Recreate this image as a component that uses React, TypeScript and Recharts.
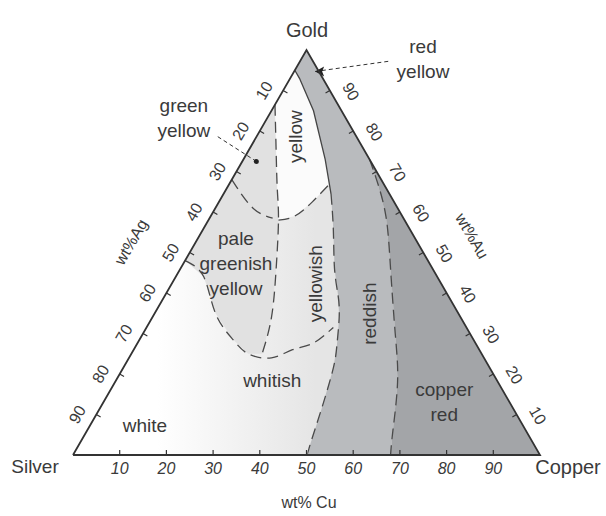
import { ScatterChart, Scatter, XAxis, YAxis } from 'recharts';

const K = Math.sqrt(3) / 2;
const FONT = '"Liberation Sans", Arial, sans-serif';

// every composition is [wt% Cu, wt% Au]; wt% Ag is what is left
const cuTicks = [10, 20, 30, 40, 50, 60, 70, 80, 90];
const agTicks = [10, 20, 30, 40, 50, 60, 70, 80, 90];
const auTicks = [90, 80, 70, 60, 50, 40, 30, 20, 10];

const outline = [[0, 0], [100, 0], [0, 100], [0, 0]];

// reddish / yellow boundary, apex down to the Ag-Cu side
const reddishLeft = [
  [0, 95], [2, 93], [9, 85], [17.5, 73], [23, 64.5], [28, 55.5], [33, 46],
  [37, 39.5], [40, 34], [43, 27], [45, 21.5], [47.5, 11.5], [49.7, 1.7], [50.5, 0],
];
// copper red / reddish boundary
const copperRedLeft = [
  [27, 73], [31, 68], [37.5, 59], [45, 46], [54, 30], [60.5, 18], [65.5, 6], [68, 0],
];
// long dashed line between the yellow and green yellow fields
const yellowDivide = [
  [0, 86.5], [6, 75], [11, 65.5], [15, 58], [20.5, 46], [25.5, 34], [28, 25],
];
const greenDivide = [[0, 68], [8, 61], [13.5, 58.5]];
const yellowBottom = [[15, 58], [18, 59], [20, 62.5], [21.5, 67]];
const paleBottom = [
  [0, 48], [6, 44], [13, 35], [20, 28.5], [25, 25], [30.5, 24], [34, 26], [37.5, 27.5], [40, 31.5],
];

const redYellowLeader = [[18.9, 97.2], [4.5, 94.7]];
const greenYellowLeader = [[-8.3, 78.6], [3, 72.5]];

const flatLabels = [
  { text: ['red', 'yellow'], cu: 26.1, au: 97.7 },
  { text: ['green', 'yellow'], cu: -17.9, au: 83.3 },
  { text: ['pale', 'greenish', 'yellow'], cu: 11.3, au: 47.2 },
  { text: ['whitish'], cu: 33.5, au: 18.3 },
  { text: ['white'], cu: 11.8, au: 7.2 },
  { text: ['copper', 'red'], cu: 73, au: 13 },
];
const uprightLabels = [
  { text: 'yellow', cu: 8.4, au: 78.6 },
  { text: 'yellowish', cu: 30.7, au: 42.3 },
  { text: 'reddish', cu: 46, au: 34.9 },
];

const pt = (cu: number, au: number) => ({ x: cu + au / 2, y: au * K });
const path = (list: number[][]) => list.map(([cu, au]) => pt(cu, au));

const triangleFill = path(outline);
const copperRedFill = path([...copperRedLeft, [100, 0]]);
const reddishFill = path([...reddishLeft, [68, 0], ...[...copperRedLeft].reverse(), [0, 100]]);
const paleFill = path([...yellowDivide, ...paleBottom.slice(0, 5).reverse()]);
const yellowFill = path([
  ...reddishLeft.slice(0, 4), ...[...yellowBottom].reverse(), ...yellowDivide.slice(0, 3).reverse(),
]);

const bottomTickData = cuTicks.map((v) => ({ ...pt(v, 0), label: v }));
const leftTickData = agTicks.map((v) => ({ ...pt(0, 100 - v), label: v }));
const rightTickData = auTicks.map((v) => ({ ...pt(100 - v, v), label: v }));
const flatLabelData = flatLabels.map((l) => ({ ...pt(l.cu, l.au), text: l.text }));
const uprightLabelData = uprightLabels.map((l) => ({ ...pt(l.cu, l.au), text: l.text }));

const none = () => <g />;
const textStyle = { fontFamily: FONT, fill: '#3a3a3a' };

const bottomTick = (p: any) => (
  <g>
    <line x1={p.cx} y1={p.cy} x2={p.cx} y2={p.cy - 5} stroke="#333" strokeWidth={1.2} />
    <text x={p.cx} y={p.cy + 19} textAnchor="middle" fontSize={16} fontStyle="italic" {...textStyle}>
      {p.payload.label}
    </text>
  </g>
);
const leftTick = (p: any) => (
  <g>
    <line x1={p.cx} y1={p.cy} x2={p.cx + 4.3} y2={p.cy + 2.5} stroke="#333" strokeWidth={1.2} />
    <text x={p.cx - 19} y={p.cy} textAnchor="middle" dominantBaseline="central" fontSize={16}
      transform={`rotate(-60 ${p.cx - 19} ${p.cy})`} {...textStyle}>
      {p.payload.label}
    </text>
  </g>
);
const rightTick = (p: any) => (
  <g>
    <line x1={p.cx} y1={p.cy} x2={p.cx - 4.3} y2={p.cy + 2.5} stroke="#333" strokeWidth={1.2} />
    <text x={p.cx + 21} y={p.cy + 1} textAnchor="middle" dominantBaseline="central" fontSize={16}
      transform={`rotate(60 ${p.cx + 21} ${p.cy + 1})`} {...textStyle}>
      {p.payload.label}
    </text>
  </g>
);
const flatLabel = (p: any) => {
  const lines: string[] = p.payload.text;
  const top = p.cy - ((lines.length - 1) * 25) / 2;
  return (
    <g>
      {lines.map((s, i) => (
        <text key={i} x={p.cx} y={top + i * 25} textAnchor="middle" dominantBaseline="central"
          fontSize={19} {...textStyle}>
          {s}
        </text>
      ))}
    </g>
  );
};
const uprightLabel = (p: any) => (
  <text x={p.cx} y={p.cy} textAnchor="middle" dominantBaseline="central" fontSize={19}
    transform={`rotate(-90 ${p.cx} ${p.cy})`} {...textStyle}>
    {p.payload.text}
  </text>
);
const dotTip = (p: any) => <circle cx={p.cx} cy={p.cy} r={2.5} fill="#222" />;
const arrowTip = (p: any) => (
  <path d={`M${p.cx},${p.cy} l9,-5 l-2,5 l2,5 z`} fill="#222" />
);

const dashed = { stroke: '#4a4a4a', strokeWidth: 1.3, strokeDasharray: '11 6', fill: 'none' };
const leader = { stroke: '#333', strokeWidth: 1, strokeDasharray: '4 3', fill: 'none' };

export default function App() {
  return (
    <div style={{ position: 'absolute', left: 0, top: 0, background: '#fff' }}>
      <ScatterChart width={606} height={516} margin={{ top: 50, right: 66, bottom: 61, left: 73 }}>
        <defs>
          <linearGradient id="baseShade" x1="0" y1="0" x2="1" y2="0">
            <stop offset="18%" stopColor="#ffffff" />
            <stop offset="52%" stopColor="#e5e5e5" />
          </linearGradient>
        </defs>
        <XAxis type="number" dataKey="x" domain={[0, 100]} hide />
        <YAxis type="number" dataKey="y" domain={[0, 100 * K]} hide />

        <Scatter data={triangleFill} shape={none} line={{ fill: 'url(#baseShade)', stroke: 'none' }} isAnimationActive={false} />
        <Scatter data={paleFill} shape={none} line={{ fill: '#e1e1e1', stroke: 'none' }} isAnimationActive={false} />
        <Scatter data={yellowFill} shape={none} line={{ fill: '#fbfbfb', stroke: 'none' }} isAnimationActive={false} />
        <Scatter data={reddishFill} shape={none} line={{ fill: '#b9bbbe', stroke: 'none' }} isAnimationActive={false} />
        <Scatter data={copperRedFill} shape={none} line={{ fill: '#a3a5a8', stroke: 'none' }} isAnimationActive={false} />

        <Scatter data={path(reddishLeft.slice(0, 5))} shape={none} line={{ stroke: '#444', strokeWidth: 1.3, fill: 'none' }} isAnimationActive={false} />
        <Scatter data={path(reddishLeft.slice(4))} shape={none} line={dashed} lineJointType="natural" isAnimationActive={false} />
        <Scatter data={path(copperRedLeft)} shape={none} line={dashed} lineJointType="natural" isAnimationActive={false} />
        <Scatter data={path(yellowDivide)} shape={none} line={dashed} lineJointType="natural" isAnimationActive={false} />
        <Scatter data={path(greenDivide)} shape={none} line={dashed} lineJointType="natural" isAnimationActive={false} />
        <Scatter data={path(yellowBottom)} shape={none} line={dashed} lineJointType="natural" isAnimationActive={false} />
        <Scatter data={path(paleBottom)} shape={none} line={dashed} lineJointType="natural" isAnimationActive={false} />

        <Scatter data={path(redYellowLeader)} shape={none} line={leader} isAnimationActive={false} />
        <Scatter data={path(greenYellowLeader)} shape={none} line={leader} isAnimationActive={false} />
        <Scatter data={path(redYellowLeader.slice(1))} shape={arrowTip} isAnimationActive={false} />
        <Scatter data={path(greenYellowLeader.slice(1))} shape={dotTip} isAnimationActive={false} />

        <Scatter data={triangleFill} shape={none} line={{ stroke: '#333', strokeWidth: 1.8, fill: 'none' }} isAnimationActive={false} />
        <Scatter data={bottomTickData} shape={bottomTick} isAnimationActive={false} />
        <Scatter data={leftTickData} shape={leftTick} isAnimationActive={false} />
        <Scatter data={rightTickData} shape={rightTick} isAnimationActive={false} />
        <Scatter data={flatLabelData} shape={flatLabel} isAnimationActive={false} />
        <Scatter data={uprightLabelData} shape={uprightLabel} isAnimationActive={false} />

        <text x={307} y={30} textAnchor="middle" dominantBaseline="central" fontSize={20} {...textStyle}>Gold</text>
        <text x={35} y={466} textAnchor="middle" dominantBaseline="central" fontSize={19} {...textStyle}>Silver</text>
        <text x={568} y={467} textAnchor="middle" dominantBaseline="central" fontSize={20} {...textStyle}>Copper</text>
        <text x={309} y={502} textAnchor="middle" dominantBaseline="central" fontSize={16} {...textStyle}>wt% Cu</text>
        <text x={131} y={242} textAnchor="middle" dominantBaseline="central" fontSize={16}
          transform="rotate(-60 131 242)" {...textStyle}>wt%Ag</text>
        <text x={472} y={236} textAnchor="middle" dominantBaseline="central" fontSize={16}
          transform="rotate(60 472 236)" {...textStyle}>wt%Au</text>
      </ScatterChart>
    </div>
  );
}
